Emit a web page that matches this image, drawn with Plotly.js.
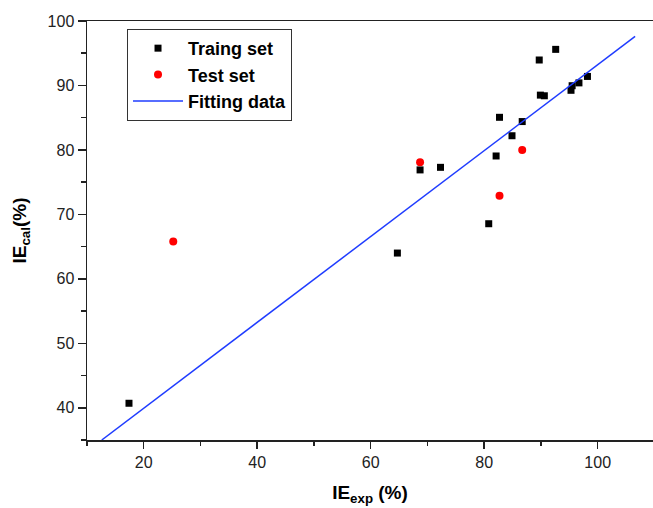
<!DOCTYPE html>
<html>
<head>
<meta charset="utf-8">
<script src="https://cdn.plot.ly/plotly-3.0.1.min.js"></script>
<style>html,body{margin:0;padding:0;background:#fff;}#chart{width:653px;height:508px;}</style>
</head>
<body>
<div id="chart"></div>
<script>
// Training set
var trainX = [17.4, 64.7, 68.7, 72.3, 80.8, 82.1, 82.7, 84.9, 86.7, 89.7, 89.9, 90.6, 92.6, 95.3, 95.5, 96.7, 98.2];
var trainY = [40.7, 64.0, 76.9, 77.3, 68.55, 79.06, 85.06, 82.2, 84.4, 93.95, 88.5, 88.4, 95.6, 89.25, 89.96, 90.4, 91.4];
// Test set
var testX = [25.2, 68.7, 82.7, 86.7];
var testY = [65.8, 78.1, 72.9, 80.0];
// Fitting line
var fitX = [12.6, 106.6];
var fitY = [35.0, 97.6];
var xTicks = [20, 40, 60, 80, 100];
var yTicks = [40, 50, 60, 70, 80, 90, 100];

var FONT = '"Liberation Sans", Arial, sans-serif';

var data = [
  {x: trainX, y: trainY, type: 'scatter', mode: 'markers', name: 'Traing set',
   marker: {symbol: 'square', size: 7, color: '#000000'}},
  {x: testX, y: testY, type: 'scatter', mode: 'markers', name: 'Test set',
   marker: {symbol: 'circle', size: 8, color: '#ff0000'}},
  {x: fitX, y: fitY, type: 'scatter', mode: 'lines', name: 'Fitting data',
   line: {color: '#1f3cff', width: 1.5}}
];

var layout = {
  width: 653, height: 508,
  margin: {l: 87, r: 0, t: 21, b: 68},
  paper_bgcolor: '#ffffff', plot_bgcolor: '#ffffff',
  font: {family: FONT, color: '#222'},
  showlegend: true,
  legend: {
    x: 0.0707, y: 0.981, xanchor: 'left', yanchor: 'top',
    bgcolor: '#ffffff', bordercolor: '#333', borderwidth: 1,
    font: {family: FONT, size: 18, color: '#000', weight: 'bold'},
    itemwidth: 50,
    entrywidth: 192, entrywidthmode: 'pixels'
  },
  xaxis: {
    range: [10, 109.75], tickvals: xTicks, ticktext: xTicks.map(String),
    showgrid: false, zeroline: false,
    showline: true, linecolor: '#222', linewidth: 1.5, mirror: true,
    ticks: 'outside', ticklen: 7, tickwidth: 1.5, tickcolor: '#222',
    minor: {dtick: 10, tick0: 10, ticks: 'outside', ticklen: 4, tickwidth: 1.5, tickcolor: '#222'},
    tickfont: {family: FONT, size: 16, color: '#222'},
    title: {text: '<b>IE<sub>exp</sub> (%)</b>', font: {family: FONT, size: 19, color: '#000'}, standoff: 16}
  },
  yaxis: {
    range: [35, 100], tickvals: yTicks, ticktext: yTicks.map(String),
    showgrid: false, zeroline: false,
    showline: true, linecolor: '#222', linewidth: 1.5, mirror: false,
    ticks: 'outside', ticklen: 8, tickwidth: 1.5, tickcolor: '#222',
    minor: {dtick: 5, tick0: 35, ticks: 'outside', ticklen: 5, tickwidth: 1.5, tickcolor: '#222'},
    tickfont: {family: FONT, size: 16, color: '#222'},
    title: {text: '<b>IE<sub>cal</sub>(%)</b>', font: {family: FONT, size: 19, color: '#000'}, standoff: 16}
  }
};

Plotly.newPlot('chart', data, layout, {displayModeBar: false, staticPlot: true});
</script>
</body>
</html>
